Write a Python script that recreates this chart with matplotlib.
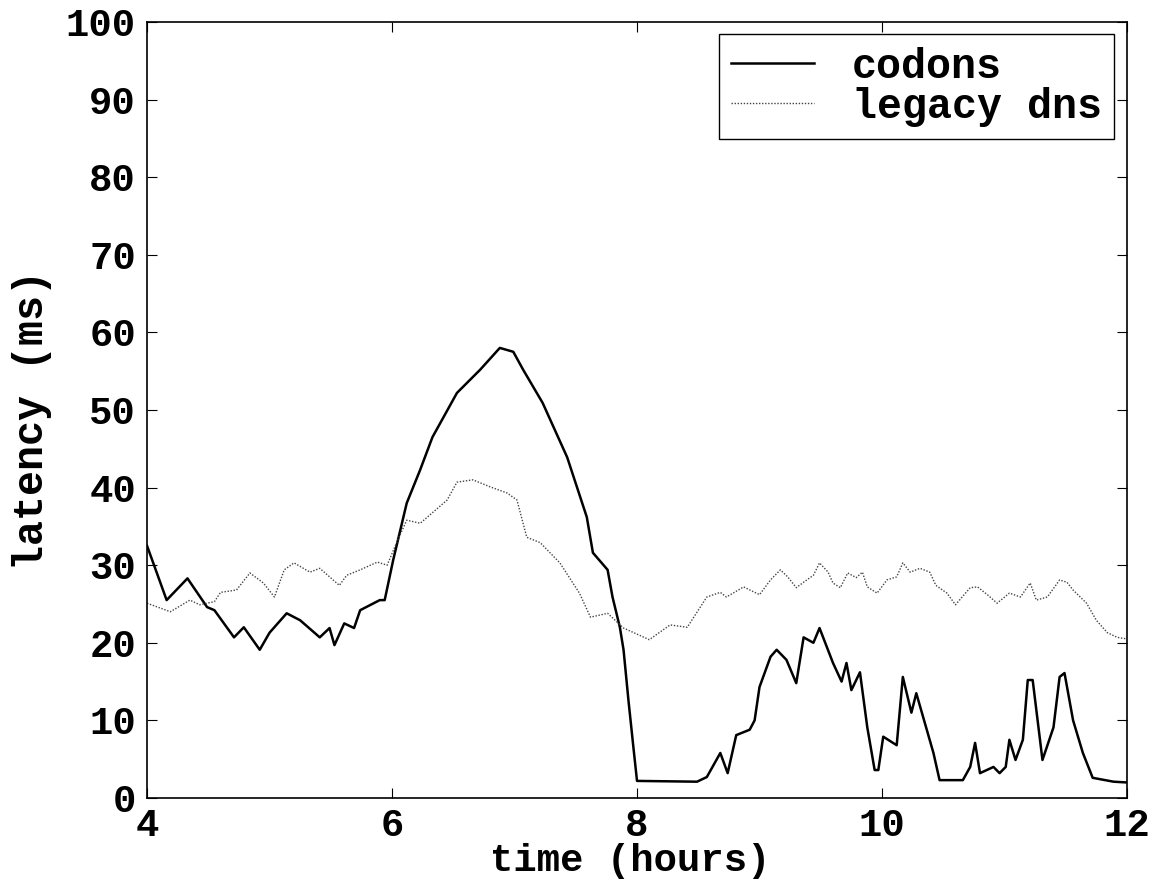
import matplotlib
matplotlib.use("Agg")
import matplotlib.pyplot as plt

# codons latency (ms) vs time (hours)
codons_t = [4.00, 4.16, 4.33, 4.49, 4.55, 4.71, 4.79, 4.92, 5.00, 5.14, 5.25, 5.41, 5.49, 5.53, 5.61,
            5.69, 5.74, 5.90, 5.94, 6.01, 6.12, 6.23, 6.33, 6.53, 6.72, 6.88, 6.99, 7.07, 7.23, 7.43,
            7.59, 7.64, 7.76, 7.80, 7.86, 7.89, 7.93, 7.97, 8.00, 8.49, 8.57, 8.68, 8.74, 8.81, 8.92,
            8.96, 9.00, 9.09, 9.14, 9.22, 9.30, 9.36, 9.44, 9.49, 9.60, 9.67, 9.71, 9.75, 9.82, 9.88,
            9.94, 9.97, 10.01, 10.12, 10.17, 10.24, 10.28, 10.42, 10.47, 10.66, 10.72, 10.76, 10.80, 10.91, 10.96,
            11.01, 11.04, 11.09, 11.15, 11.19, 11.23, 11.31, 11.40, 11.45, 11.49, 11.56, 11.64, 11.72, 11.89, 12.00]
codons_v = [32.5, 25.5, 28.3, 24.6, 24.2, 20.7, 22.0, 19.1, 21.3, 23.8, 22.9, 20.7, 21.9, 19.7, 22.5,
            21.9, 24.2, 25.5, 25.5, 30.7, 38.0, 42.3, 46.5, 52.2, 55.2, 58.0, 57.5, 55.2, 50.9, 43.9,
            36.2, 31.6, 29.4, 25.9, 22.0, 19.1, 12.6, 6.6, 2.2, 2.1, 2.7, 5.8, 3.2, 8.1, 8.8,
            10.0, 14.3, 18.2, 19.1, 17.8, 14.8, 20.7, 20.0, 21.9, 17.4, 15.0, 17.4, 13.9, 16.2, 9.1,
            3.6, 3.6, 7.9, 6.8, 15.6, 11.0, 13.5, 5.8, 2.3, 2.3, 4.0, 7.1, 3.2, 4.0, 3.2,
            4.0, 7.5, 4.9, 7.5, 15.2, 15.2, 4.9, 9.1, 15.6, 16.1, 10.0, 5.8, 2.6, 2.1, 2.0]

# legacy dns latency (ms) vs time (hours)
legacy_t = [4.00, 4.19, 4.35, 4.43, 4.55, 4.60, 4.73, 4.84, 4.95, 5.04, 5.12, 5.20, 5.33, 5.41, 5.49,
            5.57, 5.63, 5.74, 5.88, 5.96, 6.04, 6.12, 6.23, 6.45, 6.53, 6.66, 6.80, 6.94, 7.02, 7.10,
            7.21, 7.37, 7.53, 7.62, 7.76, 7.89, 8.10, 8.27, 8.41, 8.57, 8.68, 8.73, 8.87, 9.00, 9.09,
            9.17, 9.23, 9.30, 9.36, 9.44, 9.49, 9.56, 9.60, 9.66, 9.72, 9.79, 9.84, 9.88, 9.96, 10.04,
            10.12, 10.17, 10.23, 10.31, 10.39, 10.44, 10.53, 10.60, 10.72, 10.78, 10.86, 10.94, 11.04, 11.13, 11.21,
            11.26, 11.35, 11.45, 11.51, 11.56, 11.67, 11.75, 11.84, 11.92, 12.00]
legacy_v = [25.1, 24.0, 25.5, 24.9, 25.3, 26.5, 26.8, 29.0, 27.7, 25.9, 29.4, 30.3, 29.1, 29.6, 28.5,
            27.4, 28.7, 29.4, 30.4, 30.0, 33.0, 35.8, 35.4, 38.4, 40.7, 41.0, 40.1, 39.3, 38.4, 33.6,
            32.9, 30.3, 26.4, 23.3, 23.8, 21.9, 20.4, 22.3, 22.0, 25.9, 26.5, 25.9, 27.2, 26.2, 28.1,
            29.4, 28.5, 27.1, 27.8, 28.7, 30.3, 29.1, 27.7, 27.1, 29.0, 28.4, 29.1, 27.2, 26.4, 28.1,
            28.5, 30.3, 29.1, 29.6, 29.1, 27.4, 26.4, 24.9, 27.1, 27.2, 26.2, 25.1, 26.4, 25.9, 27.7,
            25.5, 25.9, 28.1, 27.8, 26.8, 25.1, 22.9, 21.3, 20.7, 20.5]

x_ticks = [4, 6, 8, 10, 12]
y_ticks = [0, 10, 20, 30, 40, 50, 60, 70, 80, 90, 100]

plt.rcParams['font.family'] = ['Liberation Mono', 'DejaVu Sans Mono']
plt.rcParams['font.weight'] = 'bold'

fig = plt.figure(figsize=(11.56, 8.8), dpi=100)
ax = fig.add_axes([0.1272, 0.0932, 0.8477, 0.8818])

ax.plot(codons_t, codons_v, color='black', linewidth=1.8, label='codons')
ax.plot(legacy_t, legacy_v, color='#444444', linewidth=1.0, linestyle=(0, (1, 1.2)), label='legacy dns')

ax.set_xlim(4, 12)
ax.set_ylim(0, 100)
ax.set_xticks(x_ticks)
ax.set_yticks(y_ticks)
ax.tick_params(direction='in', length=7, width=0.8, top=True, right=True, labelsize=28)
ax.tick_params(axis='y', pad=8)
ax.tick_params(axis='x', pad=7)
for lab in ax.get_xticklabels() + ax.get_yticklabels():
    lab.set_fontweight('bold')
for s in ax.spines.values():
    s.set_linewidth(1.2)

ax.set_xlabel('time (hours)', fontsize=28, fontweight='bold')
ax.set_ylabel('latency (ms)', fontsize=30, fontweight='bold')
ax.xaxis.label.set_verticalalignment('bottom')
ax.xaxis.set_label_coords(0.493, -0.104)
ax.yaxis.set_label_coords(-0.097, 0.487)

leg = ax.legend(loc='upper right', fontsize=30, fancybox=False, framealpha=1, edgecolor='black',
                borderaxespad=0.3, handlelength=2.0, handletextpad=0.9, labelspacing=0.0,
                borderpad=0.3)
leg.get_frame().set_linewidth(1.0)
for t in leg.get_texts():
    t.set_fontweight('bold')

fig.savefig('out.png', dpi=100)
